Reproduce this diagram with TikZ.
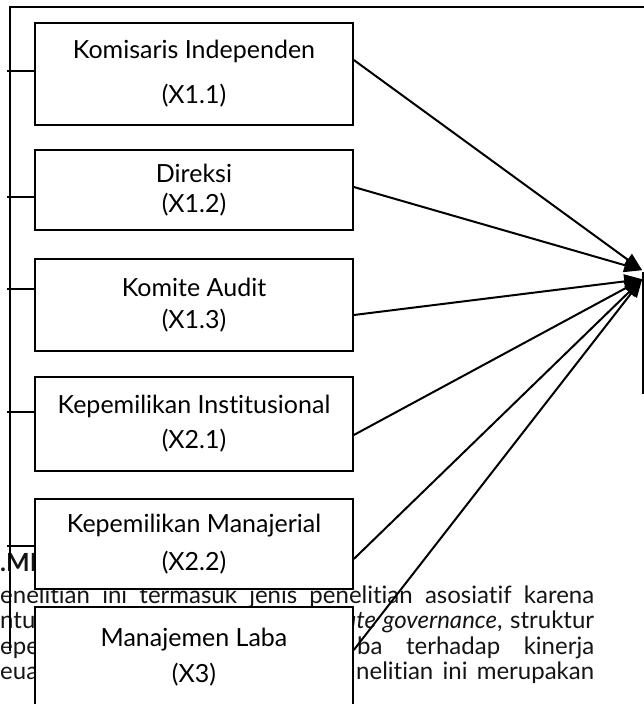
\documentclass[tikz,border=0pt]{standalone}
\usepackage{fontspec}
\setmainfont{Lato}[Ligatures={NoCommon}]
\usepackage{tikz}
\usetikzlibrary{arrows.meta,positioning,calc}
\definecolor{boxline}{RGB}{0,0,0}
\definecolor{bodytext}{RGB}{20,20,20}
\tikzset{
  varbox/.style={
    draw=boxline,
    fill=white,
    line width=1.6pt,
    minimum width=318pt,
    align=center,
    inner sep=0pt,
    font=\fontsize{25}{34}\selectfont
  },
  target/.style={
    draw=boxline,
    line width=1.6pt,
    minimum width=100pt,
    minimum height=120pt
  },
  bodyline/.style={
    anchor=base west,
    inner sep=0pt,
    text=bodytext,
    font=\fontsize{24}{25}\selectfont
  },
  frame/.style={line width=1.8pt},
  ticks/.style={line width=1.6pt},
  arrow/.style={-{Triangle[length=18pt,width=14pt]}, line width=2pt}
}

\begin{document}
\begin{tikzpicture}[x=1pt,y=-1pt]
  \useasboundingbox (0,0) rectangle (644,704);
  \clip (0,0) rectangle (644,704);

  \node[bodyline, font=\fontsize{25}{25}\selectfont\bfseries] (head) at (0,571) {.ME};
  \node[bodyline] (par1) at (0,603) {\makebox[594pt][s]{enelitian ini termasuk jenis penelitian asosiatif karena}};
  \node[bodyline] (par2a) at (0,628) {ntuk};
  \node[bodyline] (par2b) at (344,628) {\makebox[250pt][s]{\textit{ate governance}, struktur}};
  \node[bodyline] (par3a) at (0,654) {epem};
  \node[bodyline] (par3b) at (357,654) {\makebox[237pt][s]{ba terhadap kinerja}};
  \node[bodyline] (par4a) at (0,679) {euan};
  \node[bodyline] (par4b) at (356,679) {\makebox[238pt][s]{nelitian ini merupakan}};

  \coordinate (spine) at (7,0);
  \draw[frame] (650,7) -| (10,651);

  \node[varbox, minimum height=102pt] (ki) at (194,74) {Komisaris Independen\\[11pt](X1.1)};
  \node[varbox, minimum height=80pt] (dir) at (194,190) {Direksi\\[-4pt](X1.2)};
  \node[varbox, minimum height=92pt] (ka) at (194,305) {Komite Audit\\[-2pt](X1.3)};
  \node[varbox, minimum height=94pt] (kins) at (194,424) {Kepemilikan Institusional\\[1pt](X2.1)};
  \node[varbox, minimum height=90pt] (kman) at (194,544) {Kepemilikan Manajerial\\[4pt](X2.2)};
  \node[varbox, minimum height=100pt] (ml) at (194,657) {Manajemen Laba\\[2pt](X3)};
  \node[target] (kin) at (693,333) {};

  \draw[ticks] ([yshift=3pt]ki.west) -- ([yshift=3pt]ki.west -| spine);
  \draw[ticks] ([yshift=-7pt]dir.west) -- ([yshift=-7pt]dir.west -| spine);
  \draw[ticks] ([yshift=16pt]ka.west) -- ([yshift=16pt]ka.west -| spine);
  \draw[ticks] ([yshift=12pt]kins.west) -- ([yshift=12pt]kins.west -| spine);
  \draw[ticks] ([yshift=-2pt]kman.west) -- ([yshift=-2pt]kman.west -| spine);

  \coordinate (inA) at ([yshift=2pt]kin.north west);
  \coordinate (inB) at ([yshift=-7pt]kin.north west);

  \draw[arrow] ([yshift=14pt]ki.east) -- (inA);
  \draw[arrow] ([yshift=3pt]dir.east) -- (inA);
  \draw[arrow] ([yshift=-10pt]ka.east) -- (inB);
  \draw[arrow] ([yshift=-11pt]kins.east) -- (inB);
  \draw[arrow] ([yshift=-15pt]kman.east) -- (inB);
  \draw[arrow] ([yshift=7pt]ml.east) -- (inB);
\end{tikzpicture}
\end{document}
